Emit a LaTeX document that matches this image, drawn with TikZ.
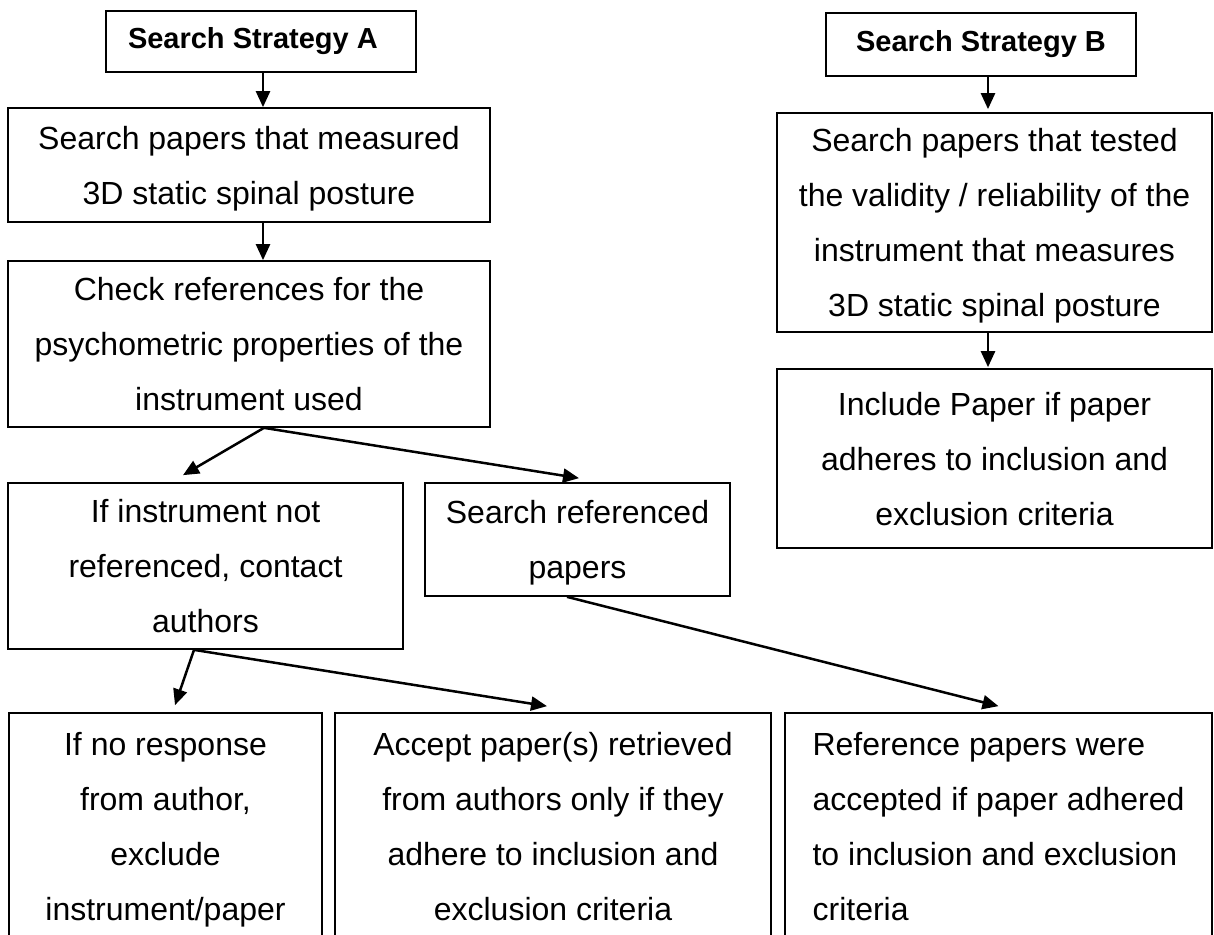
\documentclass[tikz,border=0pt]{standalone}
\usepackage{fontspec}
\setmainfont{Liberation Sans}
\usetikzlibrary{arrows.meta}
\begin{document}
\begin{tikzpicture}[x=1pt,y=-1pt,
  box/.style={draw, line width=1.7pt, inner sep=0pt, align=center,
    text depth=-5pt, font=\fontsize{32}{55}\selectfont},
  headbox/.style={draw, line width=1.7pt, inner sep=0pt,
    font=\bfseries\fontsize{29}{35}\selectfont},
  arr/.style={line width=2.5pt, -{Triangle[length=16pt,width=14pt]}}]
\useasboundingbox (0,0) rectangle (1214,934);

% Strategy A column
\node[headbox, minimum width=310, minimum height=61, text width=266pt,
  inner xsep=22pt, align=flush left] (sA) at (261,41.5) {Search Strategy A};
\node[box, minimum width=482, minimum height=114] (p1) at (249,165)
  {Search papers that measured\\3D static spinal posture};
\node[box, minimum width=482, minimum height=166] (p2) at (249,344)
  {Check references for the\\psychometric properties of the\\instrument used};
\node[box, minimum width=395, minimum height=166] (pi) at (205.5,566)
  {If instrument not\\referenced, contact\\authors};
\node[box, minimum width=305, minimum height=113] (psr) at (577.5,539.5)
  {Search referenced\\papers};

% Strategy B column
\node[headbox, minimum width=310, minimum height=63] (sB) at (981,44.5)
  {Search Strategy B};
\node[box, minimum width=435, minimum height=219] (b1) at (994.5,222.5)
  {Search papers that tested\\the validity / reliability of the\\instrument that measures\\3D static spinal posture};
\node[box, minimum width=435, minimum height=179] (b2) at (994.5,458.5)
  {Include Paper if paper\\adheres to inclusion and\\exclusion criteria};

% Outcome row
\node[box, minimum width=313, minimum height=227] (q1) at (165.5,826.5)
  {If no response\\from author,\\exclude\\instrument/paper};
\node[box, minimum width=436, minimum height=227] (q2) at (553,826.5)
  {Accept paper(s) retrieved\\from authors only if they\\adhere to inclusion and\\exclusion criteria};
\node[box, minimum width=427, minimum height=227, align=flush left,
  xshift=-3pt] (q3) at (1001.5,826.5)
  {Reference papers were\\accepted if paper adhered\\to inclusion and exclusion\\criteria};

% Connectors
\draw[arr] ([xshift=2pt]sA.south) -- ([xshift=14pt]p1.north);
\draw[arr] ([xshift=14pt]p1.south) -- ([xshift=14pt]p2.north);
\draw[arr] ([xshift=15pt]p2.south) -- ([xshift=-22.5pt,yshift=7pt]pi.north);
\draw[arr] ([xshift=15pt]p2.south) -- ([xshift=1.5pt,yshift=4pt]psr.north);
\draw[arr] ([xshift=-11.5pt]pi.south) -- ([xshift=9.5pt,yshift=7pt]q1.north);
\draw[arr] ([xshift=-11.5pt]pi.south) -- ([xshift=-6pt,yshift=6pt]q2.north);
\draw[arr] ([xshift=-10.5pt]psr.south) -- ([yshift=6pt]q3.north);
\draw[arr] ([xshift=7pt]sB.south) -- ([xshift=-6.5pt,yshift=3pt]b1.north);
\draw[arr] ([xshift=-6.5pt]b1.south) -- ([xshift=-6.5pt,yshift=1pt]b2.north);
\end{tikzpicture}
\end{document}
